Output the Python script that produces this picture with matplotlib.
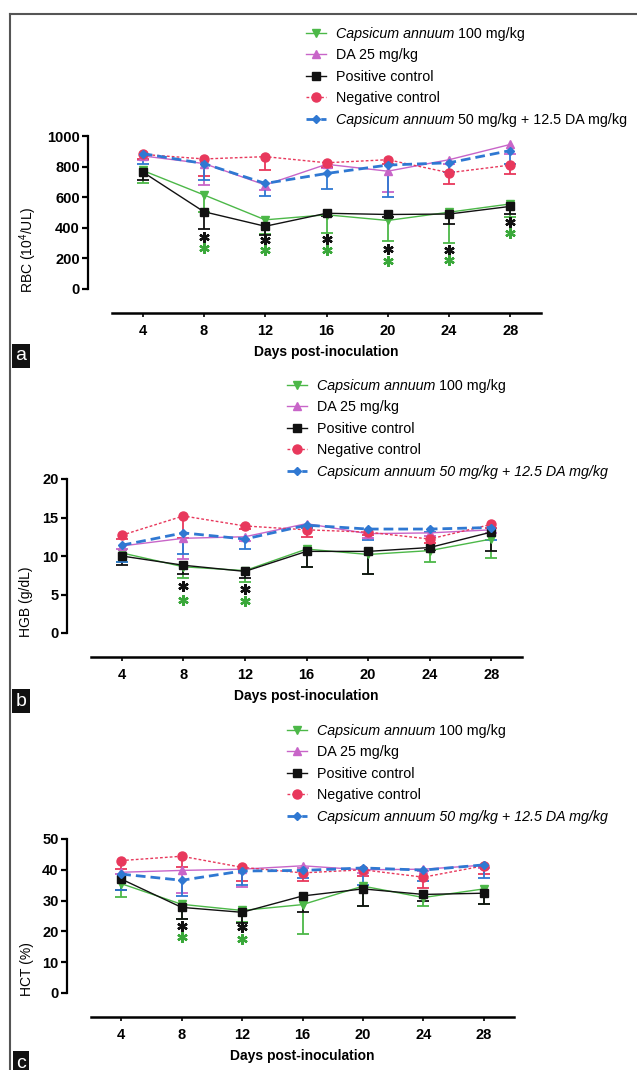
import matplotlib
matplotlib.use('Agg')
import matplotlib.pyplot as plt
from matplotlib.lines import Line2D
from matplotlib.text import Annotation
import numpy as np

plt.rcParams['font.family'] = 'Liberation Sans'
plt.rcParams['mathtext.fontset'] = 'custom'
plt.rcParams['mathtext.rm'] = 'Liberation Sans'
plt.rcParams['mathtext.it'] = 'Liberation Sans:italic'

days = [4, 8, 12, 16, 20, 24, 28]

# RBC (10^4/UL): group means and lower error bars
rbc_green = [775, 615, 452, 485, 448, 502, 556]
rbc_green_err = [80, 110, 95, 120, 135, 200, 85]
rbc_pink = [870, 820, 680, 815, 770, 845, 945]
rbc_pink_err = [30, 140, 30, 25, 135, 25, 65]
rbc_black = [765, 505, 410, 495, 487, 490, 540]
rbc_black_err = [55, 115, 60, 15, 15, 65, 50]
rbc_red = [880, 850, 865, 825, 845, 760, 810]
rbc_red_err = [30, 110, 90, 25, 30, 75, 60]
rbc_blue = [885, 820, 690, 755, 810, 825, 905]
rbc_blue_err = [70, 110, 85, 100, 210, 60, 90]
rbc_star_days = [8, 12, 16, 20, 24, 28]
rbc_star_black = [343, 322, 326, 261, 257, 441]
rbc_star_green = [267, 252, 252, 180, 191, 365]

# HGB (g/dL)
hgb_green = [10.4, 8.6, 8.1, 10.9, 10.2, 10.7, 12.2]
hgb_green_err = [1.2, 1.5, 1.5, 2.3, 2.6, 1.5, 2.4]
hgb_pink = [11.3, 12.3, 12.5, 14.2, 12.9, 13.0, 13.4]
hgb_pink_err = [0.4, 2.7, 0.5, 0.4, 0.6, 0.4, 0.4]
hgb_black = [10.0, 8.8, 8.0, 10.6, 10.6, 11.1, 13.1]
hgb_black_err = [1.2, 1.2, 0.8, 2.0, 2.9, 0.3, 2.5]
hgb_red = [12.7, 15.2, 13.9, 13.4, 13.1, 12.2, 14.1]
hgb_red_err = [0.5, 2.9, 0.4, 0.9, 0.4, 0.5, 0.4]
hgb_blue = [11.4, 13.0, 12.2, 14.0, 13.5, 13.5, 13.7]
hgb_blue_err = [2.2, 2.7, 1.3, 0.4, 1.4, 0.4, 1.6]
hgb_star_days = [8, 12]
hgb_star_black = [6.1, 5.7]
hgb_star_green = [4.3, 4.1]

# HCT (%)
hct_green = [35.5, 28.8, 26.8, 28.7, 34.7, 31.0, 33.8]
hct_green_err = [4.2, 4.8, 3.8, 9.7, 6.5, 2.7, 4.8]
hct_pink = [39.2, 39.8, 40.2, 41.3, 40.0, 40.2, 41.5]
hct_pink_err = [0.7, 7.3, 5.7, 0.8, 1.0, 0.7, 1.0]
hct_black = [37.0, 27.8, 26.2, 31.5, 33.8, 32.0, 32.4]
hct_black_err = [3.5, 3.8, 3.4, 5.3, 5.6, 2.2, 3.4]
hct_red = [43.0, 44.4, 40.8, 39.0, 40.0, 37.6, 41.3]
hct_red_err = [2.8, 3.4, 4.5, 2.5, 2.0, 3.6, 2.8]
hct_blue = [38.6, 36.6, 39.6, 39.8, 40.6, 39.9, 41.6]
hct_blue_err = [5.1, 5.1, 4.6, 2.3, 5.6, 3.4, 4.3]
hct_star_days = [8, 12]
hct_star_black = [21.6, 21.3]
hct_star_green = [18.1, 17.5]

# legend labels: italic part, regular tail
legend_main = ['Capsicum annuum', 'DA 25 mg/kg', 'Positive control', 'Negative control',
               'Capsicum annuum']
legend_tail_a = [' 100 mg/kg', '', '', '', ' 50 mg/kg + 12.5 DA mg/kg']
legend_main_bc = legend_main[:4] + ['Capsicum annuum 50 mg/kg + 12.5 DA mg/kg']
legend_tail_bc = [' 100 mg/kg', '', '', '', '']

GREEN = '#4cb848'
PINK = '#c865c8'
BLACK = '#111111'
RED = '#e8385c'
BLUE = '#2f78d2'

styles = [
    dict(color=GREEN, marker='v', ls='-', lw=1.0, ms=6),
    dict(color=PINK, marker='^', ls='-', lw=1.0, ms=6),
    dict(color=BLACK, marker='s', ls='-', lw=1.0, ms=6),
    dict(color=RED, marker='o', ls=(0, (2, 1.5)), lw=1.0, ms=6.5),
    dict(color=BLUE, marker='D', ls=(0, (3.5, 1.8)), lw=2.0, ms=4),
]
italic_rows = [0, 4]

fig = plt.figure(figsize=(6.37, 10.70), dpi=100)
PX = 72 / 100  # points per pixel


def draw_panel(rect, series, errs, ymax, ystep, ylabel, ylab_xy,
               star_days, star_black, star_green, labels, tails, leg_xy, letter, letter_y):
    ax = fig.add_axes(rect)
    lines = []
    for mean, err, st in zip(series, errs, styles):
        mean = np.asarray(mean)
        err = np.asarray(err)
        cont = ax.errorbar(days, mean, yerr=[err, np.zeros(len(err))],
                           capsize=0, elinewidth=1.3, clip_on=False, **st)
        ax.plot(days, mean - err, ls='none', marker='_', ms=8, mew=1.3,
                color=st['color'], clip_on=False)
        lines.append(cont[0])
    ax.plot(star_days, star_black, ls='none', marker=(6, 2, 0), ms=7.5, mew=1.7,
            color=BLACK, clip_on=False)
    ax.plot(star_days, star_green, ls='none', marker=(6, 2, 0), ms=7.5, mew=1.7,
            color='#3aa83a', clip_on=False)

    ax.set_xlim(2, 30)
    ax.set_ylim(0, ymax)
    ax.set_xticks(days)
    ax.set_yticks(np.arange(0, ymax + ystep / 2, ystep))
    for s in ['top', 'right']:
        ax.spines[s].set_visible(False)
    ax.spines['left'].set_position(('outward', 24 * PX))
    ax.spines['bottom'].set_position(('outward', 24 * PX))
    ax.spines['left'].set_linewidth(1.6)
    ax.spines['bottom'].set_linewidth(1.8)
    ax.tick_params(axis='y', direction='out', length=4, width=1.6, labelsize=10.5, pad=2)
    ax.tick_params(axis='x', direction='out', length=3, width=1.2, labelsize=10.5, pad=5)
    for t in ax.get_xticklabels() + ax.get_yticklabels():
        t.set_fontweight('bold')
    ax.set_xlabel('Days post-inoculation', fontweight='bold', fontsize=10, va='center')
    ax.xaxis.set_label_coords(0.5, -0.41)
    ax.set_ylabel(ylabel, fontsize=10, va='center')
    ax.yaxis.set_label_coords(*ylab_xy)

    leg = fig.legend(lines, labels, loc='upper left', bbox_to_anchor=leg_xy,
                     frameon=False, fontsize=10.3, handlelength=1.4,
                     handletextpad=0.7, labelspacing=0.52, borderpad=0,
                     borderaxespad=0)
    texts = leg.get_texts()
    for i in italic_rows:
        texts[i].set_fontstyle('italic')
    for t, tail in zip(texts, tails):
        if tail:
            ann = Annotation(tail, xy=(1, 0), xycoords=t, va='bottom', ha='left',
                             fontsize=10.3, zorder=10)
            fig.add_artist(ann)

    fig.text(0.033, letter_y, letter, color='white', fontsize=14, ha='center', va='center',
             bbox=dict(boxstyle='square,pad=0.18', fc='#111111', ec='none'))
    return ax


draw_panel([112 / 637, 1 - 289 / 1070, 429 / 637, 153 / 1070],
           [rbc_green, rbc_pink, rbc_black, rbc_red, rbc_blue],
           [rbc_green_err, rbc_pink_err, rbc_black_err, rbc_red_err, rbc_blue_err],
           1000, 200, 'RBC (10$^4$/UL)', (-0.196, 0.255),
           rbc_star_days, rbc_star_black, rbc_star_green,
           legend_main, legend_tail_a, (306 / 637, 1 - 27 / 1070), 'a', 1 - 356 / 1070)

draw_panel([91 / 637, 1 - 633 / 1070, 431 / 637, 154 / 1070],
           [hgb_green, hgb_pink, hgb_black, hgb_red, hgb_blue],
           [hgb_green_err, hgb_pink_err, hgb_black_err, hgb_red_err, hgb_blue_err],
           20, 5, 'HGB (g/dL)', (-0.151, 0.2),
           hgb_star_days, hgb_star_black, hgb_star_green,
           legend_main_bc, legend_tail_bc, (287 / 637, 1 - 379 / 1070), 'b', 1 - 701 / 1070)

draw_panel([91 / 637, 1 - 993 / 1070, 423 / 637, 154 / 1070],
           [hct_green, hct_pink, hct_black, hct_red, hct_blue],
           [hct_green_err, hct_pink_err, hct_black_err, hct_red_err, hct_blue_err],
           50, 10, 'HCT (%)', (-0.151, 0.156),
           hct_star_days, hct_star_black, hct_star_green,
           legend_main_bc, legend_tail_bc, (287 / 637, 1 - 724 / 1070), 'c', 1 - 1063 / 1070)

# outer frame (top and left edges only)
fig.add_artist(Line2D([10 / 637, 1], [1 - 14 / 1070, 1 - 14 / 1070], transform=fig.transFigure,
                      color='#555555', lw=1.5))
fig.add_artist(Line2D([10 / 637, 10 / 637], [1 - 14 / 1070, 0], transform=fig.transFigure,
                      color='#555555', lw=1.5))

fig.savefig('out.png', dpi=100)
